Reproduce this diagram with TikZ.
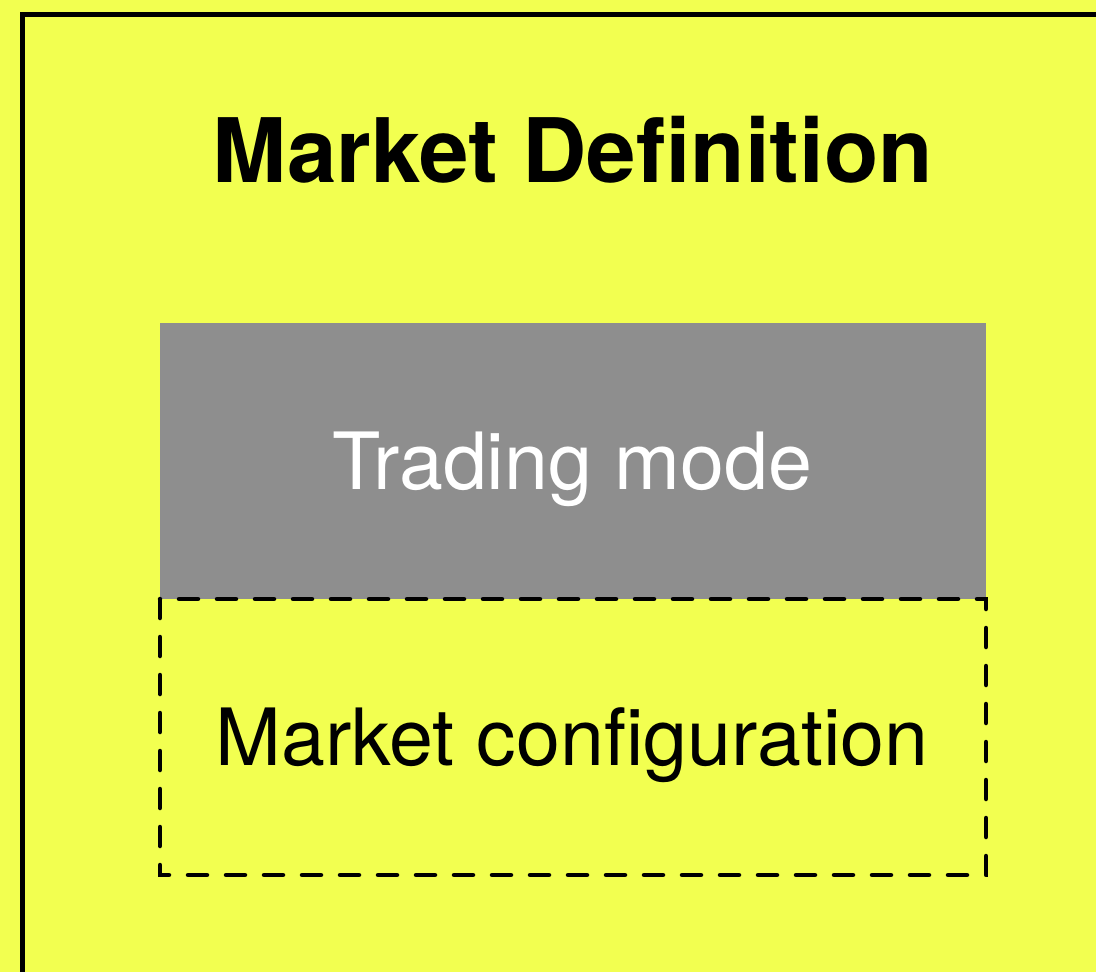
\documentclass[tikz,border=0pt]{standalone}
\usepackage{fontspec}
\setmainfont{TeX Gyre Heros}
\definecolor{bgyellow}{RGB}{242,255,80}
\definecolor{modegray}{RGB}{142,142,142}
\begin{document}
\begin{tikzpicture}[x=1pt,y=-1pt,
  frame/.style={draw=black,line width=5pt},
  modebox/.style={fill=modegray,draw=none},
  cfgbox/.style={draw=black,line width=4.5pt,line cap=round,dash pattern=on 19pt off 19pt},
  title/.style={font=\fontsize{89}{100}\selectfont\bfseries,anchor=base,inner sep=0pt},
  label/.style={font=\fontsize{79}{90}\selectfont,anchor=base,inner sep=0pt}]
\fill[bgyellow] (0,0) rectangle (1096,972);
\useasboundingbox (0,0) rectangle (1096,972);
\draw[frame] (22.5,1000) -- (22.5,14) -- (1120,14);
\fill[modebox] (160,323) rectangle (986,599);
\node[label,text=white] (mode) at (572,489) {Trading mode};
\draw[cfgbox] (160,599) rectangle (986,875);
\node[label] (cfg) at (572,765) {Market configuration};
\node[title] (def) at (573,182) {Market Definition};
\end{tikzpicture}
\end{document}
